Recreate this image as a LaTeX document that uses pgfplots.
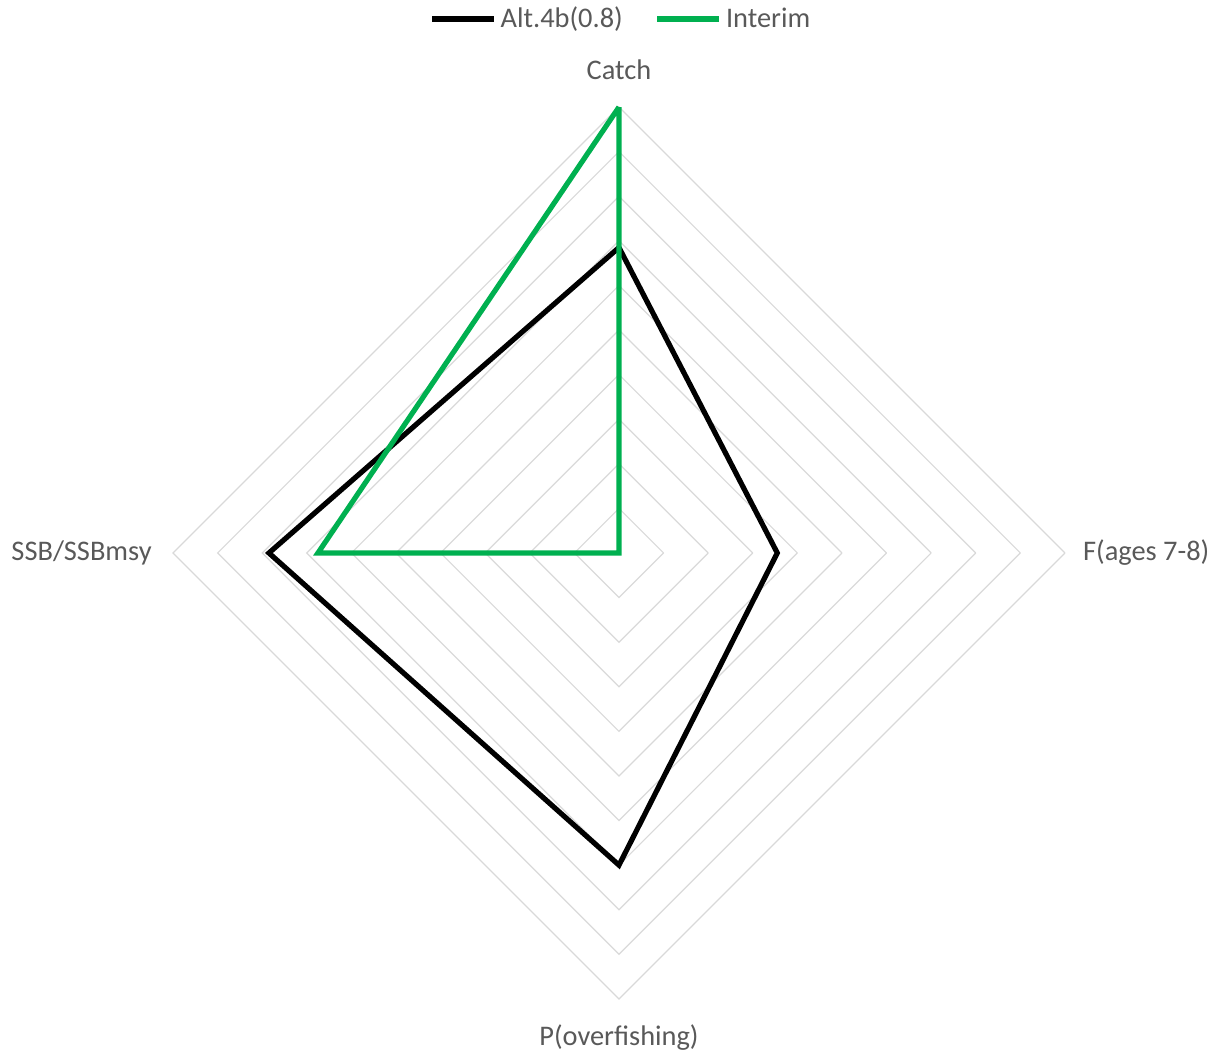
\documentclass[border=0pt]{standalone}
\usepackage{pgfplots}
\pgfplotsset{compat=1.18}
\usepackage{fontspec}
\setmainfont{Carlito}
\definecolor{xlgreen}{HTML}{00B050}
\definecolor{txtgray}{HTML}{595959}
\definecolor{gridgray}{HTML}{D9D9D9}
\begin{document}
\begin{tikzpicture}
\begin{axis}[
  x=22.3pt, y=22.3pt,
  xmin=-13.88, xmax=13.41, ymin=-11.19, ymax=12.40,
  hide axis, clip=false,
  legend columns=2,
  legend style={at={(0.511,0.982)}, anchor=center, draw=none, fill=none, inner sep=0pt,
    font=\fontsize{14.2}{17}\selectfont, text=txtgray,
    /tikz/every even column/.append style={column sep=14pt}},
  legend image code/.code={\draw[#1] (0pt,0pt) -- (31pt,0pt);},
]
\pgfplotsinvokeforeach{1,...,10}{
  \addplot[gridgray, line width=0.6pt, forget plot] coordinates {(#1,0) (0,#1) (-#1,0) (0,-#1) (#1,0)};
}
% Alt.4b(0.8): Catch (top), F(ages 7-8) (right), P(overfishing) (bottom), SSB/SSBmsy (left)
\addplot[black, line width=2.6pt] coordinates {(0,6.85) (3.55,0) (0,-7.0) (-7.85,0) (0,6.85)};
\addlegendentry{Alt.4b(0.8)}
% Interim
\addplot[xlgreen, line width=2.6pt] coordinates {(0,10) (0,0) (0,0) (-6.75,0) (0,10)};
\addlegendentry{Interim}
\node[txtgray, font=\fontsize{14.2}{17}\selectfont] at (axis cs:0,10.84) {Catch};
\node[txtgray, font=\fontsize{14.2}{17}\selectfont, anchor=west, inner sep=0pt] at (axis cs:10.40,0.0) {F(ages 7-8)};
\node[txtgray, font=\fontsize{14.2}{17}\selectfont] at (axis cs:0,-10.87) {P(overfishing)};
\node[txtgray, font=\fontsize{14.2}{17}\selectfont, anchor=east, inner sep=0pt] at (axis cs:-10.47,0.0) {SSB/SSBmsy};
\end{axis}
\pgfresetboundingbox
\useasboundingbox (current axis.south west) rectangle (current axis.north east);
\end{tikzpicture}
\end{document}
